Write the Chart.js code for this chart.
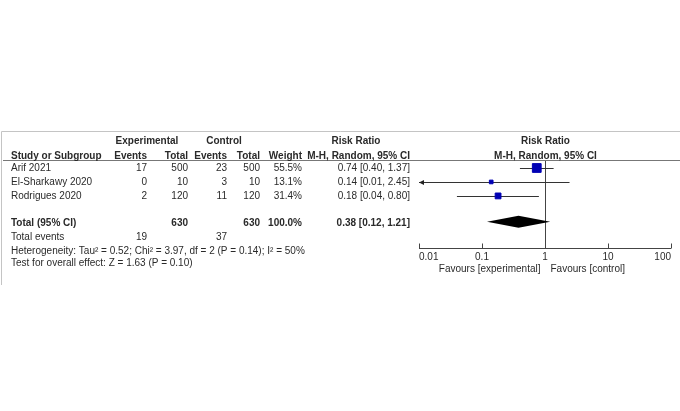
<!DOCTYPE html>
<html>
<head>
<meta charset="utf-8">
<script src="https://cdn.jsdelivr.net/npm/chart.js@4"></script>
<style>
  html, body { margin: 0; padding: 0; background: #fff; }
  #wrap { width: 680px; height: 411px; position: relative; }
</style>
</head>
<body>
<div id="wrap"><canvas id="forest"></canvas></div>
<script>
// study data
const studies = ['Arif 2021', 'El-Sharkawy 2020', 'Rodrigues 2020'];
const expEvents = [17, 0, 2];
const expTotal = [500, 10, 120];
const ctrlEvents = [23, 3, 11];
const ctrlTotal = [500, 10, 120];
const weights = ['55.5%', '13.1%', '31.4%'];
const riskRatio = [0.74, 0.14, 0.18];
const ciLow = [0.40, 0.01, 0.04];
const ciHigh = [1.37, 2.45, 0.80];
const rowPos = [1, 2, 3];

// pooled result
const pooled = [0.38, 0.12, 1.21];   // estimate, low, high
const pooledRow = 4.85;
const totals = ['630', '630', '100.0%', '0.38 [0.12, 1.21]'];
const totalEvents = ['19', '37'];
const heterogeneity = 'Heterogeneity: Tau\u00b2 = 0.52; Chi\u00b2 = 3.97, df = 2 (P = 0.14); I\u00b2 = 50%';
const overallTest = 'Test for overall effect: Z = 1.63 (P = 0.10)';

// axis
const tickValues = [0.01, 0.1, 1, 10, 100];
const tickLabels = ['0.01', '0.1', '1', '10', '100'];
const favourLeft = 'Favours [experimental]';
const favourRight = 'Favours [control]';

const FONT = '"Liberation Sans", Arial, sans-serif';
const INK = '#2a2a2a';

function fmtCI(i) {
  return riskRatio[i].toFixed(2) + ' [' + ciLow[i].toFixed(2) + ', ' + ciHigh[i].toFixed(2) + ']';
}

function txt(ctx, s, x, y, align, bold) {
  ctx.font = (bold ? 'bold ' : '') + '10px ' + FONT;
  ctx.textAlign = align;
  ctx.textBaseline = 'middle';
  ctx.fillStyle = INK;
  ctx.fillText(s, x, y);
}

const forestPlugin = {
  id: 'forest',
  beforeDatasetsDraw(chart) {
    const ctx = chart.ctx;
    const xs = chart.scales.x, ys = chart.scales.y;
    const area = chart.chartArea;
    ctx.save();

    // frame + header rule
    ctx.strokeStyle = '#c4c4c4';
    ctx.lineWidth = 1;
    ctx.beginPath();
    ctx.moveTo(680, 131.5); ctx.lineTo(1.5, 131.5); ctx.lineTo(1.5, 285);
    ctx.stroke();
    ctx.strokeStyle = '#777';
    ctx.beginPath();
    ctx.moveTo(3, 160.5); ctx.lineTo(680, 160.5);
    ctx.stroke();

    // line of no effect
    const x1 = Math.round(xs.getPixelForValue(1)) + 0.5;
    ctx.strokeStyle = '#444';
    ctx.beginPath();
    ctx.moveTo(x1, area.top); ctx.lineTo(x1, area.bottom);
    ctx.stroke();

    // confidence intervals
    ctx.strokeStyle = '#333';
    ctx.fillStyle = '#222';
    studies.forEach((s, i) => {
      const y = Math.round(ys.getPixelForValue(rowPos[i])) + 0.5;
      const lo = Math.max(ciLow[i], xs.min), hi = Math.min(ciHigh[i], xs.max);
      const xl = xs.getPixelForValue(lo), xh = xs.getPixelForValue(hi);
      ctx.beginPath();
      ctx.moveTo(xl, y); ctx.lineTo(xh, y);
      ctx.stroke();
      if (ciLow[i] <= xs.min) {
        ctx.beginPath();
        ctx.moveTo(xl, y); ctx.lineTo(xl + 5, y - 2.5); ctx.lineTo(xl + 5, y + 2.5);
        ctx.closePath(); ctx.fill();
      }
    });

    // pooled diamond
    const yd = ys.getPixelForValue(pooledRow);
    ctx.fillStyle = '#000';
    ctx.beginPath();
    ctx.moveTo(xs.getPixelForValue(pooled[1]), yd);
    ctx.lineTo(xs.getPixelForValue(pooled[0]), yd - 6);
    ctx.lineTo(xs.getPixelForValue(pooled[2]), yd);
    ctx.lineTo(xs.getPixelForValue(pooled[0]), yd + 6);
    ctx.closePath(); ctx.fill();

    // bottom axis
    const ya = Math.round(area.bottom) - 0.5;
    ctx.strokeStyle = '#444';
    ctx.beginPath();
    ctx.moveTo(area.left, ya); ctx.lineTo(area.right, ya);
    tickValues.forEach(v => {
      const tx = Math.round(xs.getPixelForValue(v)) + 0.5;
      ctx.moveTo(tx, ya); ctx.lineTo(tx, ya - 5);
    });
    ctx.stroke();
    tickValues.forEach((v, i) => {
      const tx = xs.getPixelForValue(v);
      const align = i === 0 ? 'left' : (i === tickValues.length - 1 ? 'right' : 'center');
      txt(ctx, tickLabels[i], tx, ya + 9, align, false);
    });
    txt(ctx, favourLeft, x1 - 5, ya + 21, 'right', false);
    txt(ctx, favourRight, x1 + 5, ya + 21, 'left', false);

    // table headers
    txt(ctx, 'Experimental', 147, 141, 'center', true);
    txt(ctx, 'Control', 224, 141, 'center', true);
    txt(ctx, 'Risk Ratio', 356, 141, 'center', true);
    txt(ctx, 'Risk Ratio', x1, 141, 'center', true);
    txt(ctx, 'Study or Subgroup', 11, 156, 'left', true);
    txt(ctx, 'Events', 147, 156, 'right', true);
    txt(ctx, 'Total', 188, 156, 'right', true);
    txt(ctx, 'Events', 227, 156, 'right', true);
    txt(ctx, 'Total', 260, 156, 'right', true);
    txt(ctx, 'Weight', 302, 156, 'right', true);
    txt(ctx, 'M-H, Random, 95% CI', 410, 156, 'right', true);
    txt(ctx, 'M-H, Random, 95% CI', x1, 156, 'center', true);

    // study rows
    studies.forEach((s, i) => {
      const y = ys.getPixelForValue(rowPos[i]);
      txt(ctx, s, 11, y, 'left', false);
      txt(ctx, String(expEvents[i]), 147, y, 'right', false);
      txt(ctx, String(expTotal[i]), 188, y, 'right', false);
      txt(ctx, String(ctrlEvents[i]), 227, y, 'right', false);
      txt(ctx, String(ctrlTotal[i]), 260, y, 'right', false);
      txt(ctx, weights[i], 302, y, 'right', false);
      txt(ctx, fmtCI(i), 410, y, 'right', false);
    });

    // totals
    const yt = ys.getPixelForValue(pooledRow) + 1;
    txt(ctx, 'Total (95% CI)', 11, yt, 'left', true);
    txt(ctx, totals[0], 188, yt, 'right', true);
    txt(ctx, totals[1], 260, yt, 'right', true);
    txt(ctx, totals[2], 302, yt, 'right', true);
    txt(ctx, totals[3], 410, yt, 'right', true);
    txt(ctx, 'Total events', 11, 237, 'left', false);
    txt(ctx, totalEvents[0], 147, 237, 'right', false);
    txt(ctx, totalEvents[1], 227, 237, 'right', false);
    txt(ctx, heterogeneity, 11, 251, 'left', false);
    txt(ctx, overallTest, 11, 263, 'left', false);

    ctx.restore();
  }
};

new Chart(document.getElementById('forest'), {
  type: 'scatter',
  data: {
    datasets: [{
      data: riskRatio.map((v, i) => ({ x: v, y: rowPos[i] })),
      pointStyle: 'rect',
      pointRadius: [6.2, 2.6, 4.1],
      backgroundColor: '#0000b4',
      borderColor: '#0000b4',
      borderWidth: 1
    }]
  },
  options: {
    responsive: true,
    maintainAspectRatio: false,
    animation: false,
    layout: { padding: { left: 419, right: 9, top: 161, bottom: 162 } },
    scales: {
      x: { type: 'logarithmic', min: 0.01, max: 100, display: false },
      y: { type: 'linear', min: 0.5, max: 6.8, reverse: true, display: false }
    },
    plugins: { legend: { display: false }, tooltip: { enabled: false } }
  },
  plugins: [forestPlugin]
});
</script>
</body>
</html>
